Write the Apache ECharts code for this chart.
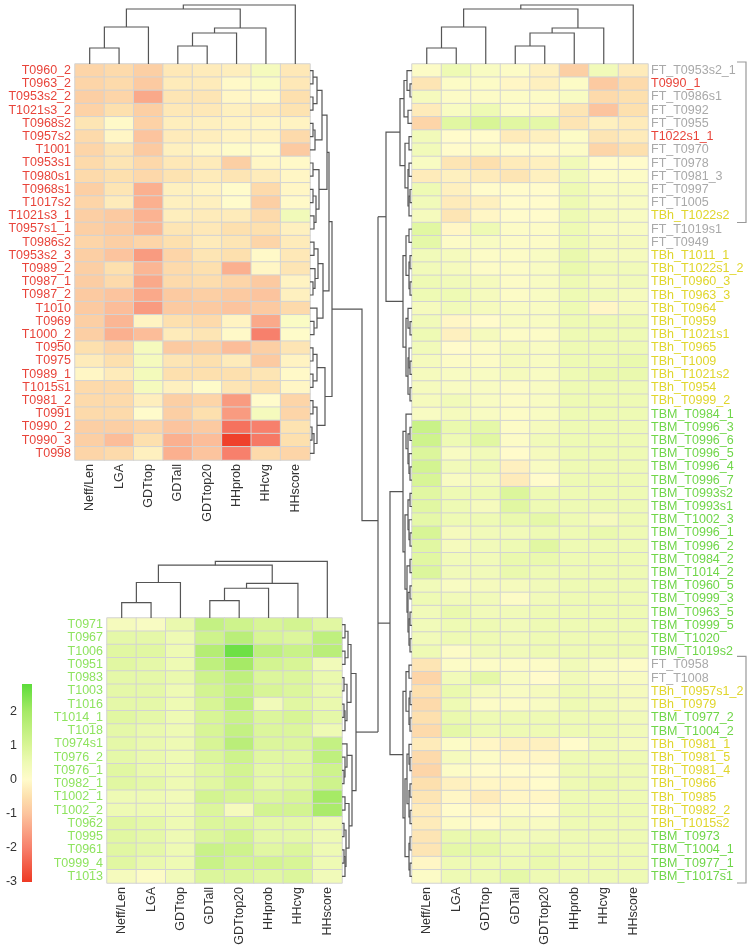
<!DOCTYPE html>
<html><head><meta charset="utf-8">
<script src="https://cdn.jsdelivr.net/npm/echarts@6/dist/echarts.min.js"></script>
<style>html,body{margin:0;padding:0;background:#fff}#c{width:750px;height:949px}</style>
</head><body><div id="c"></div>
<script>
const colNames = ['Neff/Len','LGA','GDTtop','GDTall','GDTtop20','HHprob','HHcvg','HHscore'];

const tlRows = ['T0960_2','T0963_2','T0953s2_2','T1021s3_2','T0968s2','T0957s2','T1001','T0953s1','T0980s1','T0968s1','T1017s2','T1021s3_1','T0957s1_1','T0986s2','T0953s2_3','T0989_2','T0987_1','T0987_2','T1010','T0969','T1000_2','T0950','T0975','T0989_1','T1015s1','T0981_2','T0991','T0990_2','T0990_3','T0998'];
const tlValues = [
[-0.7,-0.6,-0.8,-0.35,-0.3,-0.25,0.3,-0.35],
[-0.7,-0.6,-0.9,-0.3,-0.3,-0.05,0.15,-0.35],
[-0.8,-0.7,-1.4,-0.4,-0.4,-0.1,-0.05,-0.5],
[-0.75,-0.5,-0.8,-0.35,-0.35,-0.2,-0.3,-0.45],
[-0.4,-0.05,-0.75,-0.25,-0.2,-0.15,-0.1,-0.15],
[-0.6,-0.1,-1.0,-0.3,-0.25,-0.15,-0.15,-0.6],
[-0.7,-0.4,-0.9,-0.2,-0.1,0.05,0.0,-0.9],
[-0.6,-0.4,-0.65,-0.35,-0.3,-0.8,-0.1,-0.05],
[-0.6,-0.5,-0.65,-0.45,-0.3,-0.4,-0.3,-0.1],
[-0.8,-0.4,-1.3,-0.2,-0.15,0.0,-0.6,-0.1],
[-0.7,-0.3,-1.3,-0.2,-0.2,0.0,-0.8,-0.05],
[-0.8,-0.9,-1.25,-0.25,-0.3,-0.3,-0.6,0.4],
[-0.8,-0.9,-1.2,-0.4,-0.35,-0.5,-0.5,-0.2],
[-0.7,-0.8,-0.7,-0.5,-0.3,-0.4,-0.7,-0.3],
[-0.8,-1.0,-1.6,-0.7,-0.4,-0.5,-0.05,-0.35],
[-0.8,-0.5,-1.2,-0.6,-0.5,-1.3,-0.1,-0.4],
[-0.85,-0.6,-1.4,-0.6,-0.55,-0.7,-0.9,-0.15],
[-0.9,-1.0,-1.4,-0.9,-0.8,-0.9,-1.0,-0.2],
[-0.9,-1.1,-1.6,-0.9,-0.9,-1.0,-0.9,-0.6],
[-0.8,-1.2,-0.15,-0.5,-0.6,-0.15,-1.4,0.15],
[-0.8,-1.3,-1.1,-0.3,-0.4,-0.05,-2.0,0.05],
[-0.5,-0.7,0.3,-0.9,-0.8,-1.1,-0.8,-0.4],
[-0.3,-0.5,0.3,-0.4,-0.5,-0.3,-0.9,-0.15],
[-0.1,-0.3,0.35,-0.5,-0.5,-0.5,-0.4,-0.05],
[-0.6,-0.6,0.3,-0.2,0.05,-0.4,-0.5,-0.1],
[-0.6,-0.6,-0.25,-0.8,-0.7,-1.6,0.0,-0.7],
[-0.6,-0.6,0.0,-0.8,-0.5,-1.6,0.3,-0.7],
[-0.8,-0.8,-0.7,-1.0,-0.9,-2.2,-2.0,-0.45],
[-0.8,-1.1,-0.5,-1.3,-1.1,-2.9,-2.1,-0.5],
[-0.7,-0.6,-0.2,-1.3,-1.0,-2.0,-0.6,-0.7]
];

const blRows = ['T0971','T0967','T1006','T0951','T0983','T1003','T1016','T1014_1','T1018','T0974s1','T0976_2','T0976_1','T0982_1','T1002_1','T1002_2','T0962','T0995','T0961','T0999_4','T1013'];
const blValues = [
[0.3,0.2,0.6,1.4,1.2,1.0,1.1,0.8],
[0.7,0.7,0.5,1.2,1.6,1.0,0.9,1.5],
[0.8,0.8,0.5,1.7,2.6,1.5,1.3,1.6],
[0.8,0.7,0.5,1.5,2.0,1.1,1.0,0.4],
[0.7,0.7,0.6,1.2,1.5,0.9,0.9,0.6],
[0.7,0.7,0.5,1.1,1.4,1.0,0.9,0.6],
[0.7,0.7,0.5,1.0,1.5,0.4,0.8,0.6],
[0.8,0.7,0.5,1.0,1.3,0.9,1.0,0.7],
[0.7,0.6,0.5,1.0,1.4,0.9,0.9,0.5],
[0.7,0.6,0.5,1.0,1.6,0.9,0.9,1.4],
[0.7,0.6,0.5,0.9,1.2,0.8,0.8,1.5],
[0.8,0.6,0.5,0.8,1.1,0.7,0.8,1.2],
[0.8,0.7,0.5,0.8,1.1,0.7,0.8,1.2],
[0.5,0.5,0.4,1.1,1.0,0.9,1.0,2.0],
[0.5,0.5,0.4,0.9,0.3,1.1,1.1,1.9],
[0.8,0.7,0.5,0.9,0.9,0.7,0.7,0.5],
[0.8,0.7,0.5,0.9,1.1,0.7,0.7,0.5],
[0.8,0.7,0.5,1.3,1.2,0.8,0.9,0.5],
[0.8,0.6,0.5,1.3,1.1,1.1,1.0,0.5],
[0.3,0.1,0.4,0.9,0.9,0.8,0.9,0.4]
];

const rRows = ['FT_T0953s2_1','T0990_1','FT_T0986s1','FT_T0992','FT_T0955','T1022s1_1','FT_T0970','FT_T0978','FT_T0981_3','FT_T0997','FT_T1005','TBh_T1022s2','FT_T1019s1','FT_T0949','TBh_T1011_1','TBh_T1022s1_2','TBh_T0960_3','TBh_T0963_3','TBh_T0964','TBh_T0959','TBh_T1021s1','TBh_T0965','TBh_T1009','TBh_T1021s2','TBh_T0954','TBh_T0999_2','TBM_T0984_1','TBM_T0996_3','TBM_T0996_6','TBM_T0996_5','TBM_T0996_4','TBM_T0996_7','TBM_T0993s2','TBM_T0993s1','TBM_T1002_3','TBM_T0996_1','TBM_T0996_2','TBM_T0984_2','TBM_T1014_2','TBM_T0960_5','TBM_T0999_3','TBM_T0963_5','TBM_T0999_5','TBM_T1020','TBM_T1019s2','FT_T0958','FT_T1008','TBh_T0957s1_2','TBh_T0979','TBM_T0977_2','TBM_T1004_2','TBh_T0981_1','TBh_T0981_5','TBh_T0981_4','TBh_T0966','TBh_T0985','TBh_T0982_2','TBh_T1015s2','TBM_T0973','TBM_T1004_1','TBM_T0977_1','TBM_T1017s1'];
const rValues = [
[0.1,0.5,0.2,0.1,-0.2,-0.8,0.4,-0.3],
[-0.4,0.1,0.1,-0.1,-0.2,0.1,-0.9,-0.6],
[0.3,0.1,0.1,0.1,0.1,0.2,-0.6,-0.5],
[-0.3,0.2,0.5,0.1,-0.1,-0.4,-1.0,-0.5],
[-0.7,0.8,1.0,0.8,0.7,-0.4,-0.2,-0.3],
[0.4,0.0,0.0,-0.3,-0.2,0.1,-0.4,-0.3],
[0.4,0.0,0.1,0.0,0.0,0.1,-0.7,-0.5],
[0.2,-0.4,-0.5,-0.3,-0.2,0.4,0.0,0.0],
[-0.3,-0.2,-0.3,-0.4,-0.2,0.4,0.1,0.1],
[0.5,-0.2,0.0,0.0,0.0,0.5,0.2,0.2],
[0.4,-0.3,-0.2,0.0,0.0,0.5,0.2,0.2],
[0.3,-0.4,-0.1,0.0,0.0,0.5,0.3,0.2],
[0.8,-0.1,0.5,0.1,0.1,0.5,0.2,0.2],
[0.7,0.1,0.2,0.1,0.1,0.5,0.3,0.3],
[0.4,0.3,0.1,0.1,0.2,0.6,0.3,0.3],
[0.4,0.3,0.1,0.1,0.2,0.6,0.4,0.4],
[0.5,0.4,0.3,0.1,0.2,0.5,0.3,0.4],
[0.5,0.5,0.3,0.1,0.2,0.5,0.4,0.3],
[0.3,0.4,0.3,0.2,0.2,0.5,-0.1,0.3],
[0.4,-0.1,0.0,0.2,0.2,0.5,0.5,0.5],
[0.5,-0.2,0.3,0.1,0.1,0.5,0.5,0.5],
[0.4,0.0,0.1,0.3,0.2,0.5,0.5,0.5],
[0.3,0.1,0.1,0.3,0.2,0.5,0.5,0.6],
[0.3,0.2,0.2,0.3,0.2,0.5,0.6,0.6],
[0.3,0.2,0.2,0.1,0.2,0.5,0.5,0.5],
[0.3,0.4,0.2,0.1,0.2,0.5,0.5,0.5],
[0.2,0.3,0.2,0.1,0.2,0.5,0.5,0.5],
[1.3,0.6,0.7,0.1,0.3,0.5,0.5,0.5],
[1.2,0.5,0.8,0.1,0.4,0.5,0.5,0.5],
[0.9,0.2,0.4,0.0,0.3,0.5,0.5,0.5],
[1.1,0.4,0.5,-0.2,0.2,0.5,0.5,0.5],
[1.0,0.2,0.3,-0.3,0.0,0.5,0.5,0.5],
[0.8,0.5,0.5,0.9,0.5,0.5,0.5,0.5],
[0.8,0.5,0.3,0.8,0.5,0.5,0.5,0.5],
[0.7,0.5,0.5,0.6,0.7,0.5,0.3,0.5],
[1.0,0.3,0.4,0.4,0.5,0.5,0.6,0.5],
[0.8,0.3,0.4,0.5,0.8,0.5,0.5,0.5],
[0.8,0.4,0.4,0.6,0.6,0.5,0.5,0.5],
[0.9,0.4,0.4,0.6,0.5,0.5,0.5,0.5],
[0.4,0.2,0.3,0.3,0.4,0.5,0.5,0.5],
[0.5,0.4,0.4,0.1,0.4,0.5,0.5,0.5],
[0.4,0.6,0.4,0.4,0.5,0.5,0.5,0.5],
[0.4,0.5,0.5,0.4,0.5,0.5,0.5,0.5],
[0.4,0.5,0.5,0.4,0.5,0.5,0.5,0.5],
[0.5,0.1,0.4,0.4,0.5,0.5,0.5,0.5],
[-0.4,0.1,0.1,0.1,0.1,0.4,0.2,0.1],
[-0.7,0.4,0.7,0.2,0.0,0.4,0.2,0.2],
[-0.5,0.6,0.3,0.2,0.3,0.5,0.4,0.3],
[-0.6,0.5,0.1,0.1,0.2,0.5,0.4,0.3],
[-0.5,0.6,0.5,0.5,0.5,0.5,0.5,0.4],
[-0.6,0.7,0.5,0.5,0.5,0.5,0.5,0.4],
[-0.3,0.1,-0.1,-0.2,-0.2,0.0,0.4,0.3],
[-0.6,0.3,0.1,-0.1,-0.1,0.5,0.5,0.5],
[-0.7,0.1,0.0,0.0,0.0,0.5,0.5,0.5],
[-0.5,-0.2,-0.1,-0.1,0.0,0.5,0.6,0.5],
[-0.4,-0.1,-0.3,-0.1,-0.1,0.5,0.5,0.5],
[-0.3,0.0,-0.1,0.1,0.0,0.5,0.5,0.5],
[-0.3,0.1,0.0,0.3,0.2,0.5,0.5,0.5],
[-0.4,0.6,0.6,0.4,0.4,0.5,0.5,0.5],
[-0.4,0.7,0.7,0.5,0.6,0.5,0.5,0.5],
[-0.1,0.5,0.5,0.5,0.6,0.5,0.5,0.5],
[0.1,0.5,0.5,0.7,0.5,0.5,0.5,0.5]
];

// colour scale (value, colour) and colour-bar ticks
const cbMin = -3, cbMax = 2.8;
const colorStops = [[-3,'#ee3a24'],[-2,'#f7806c'],[-1,'#fcc49e'],[-0.5,'#fde0ae'],[0,'#fffbcb'],[0.5,'#eefab4'],[1,'#d8f596'],[2,'#a6ea66'],[2.8,'#5cdc3a']];
const cbTicks = [-3,-2,-1,0,1,2];

// dendrograms: [left, right, height]; leaves are indices
const colTree = [[[[0,1,16],2,37],[[[3,4,18],5,31],6,36],55],7,59];
const tlTree = [
  [[[[[0,1,3],[2,3,3],7],[[4,5,3],6,5],12],[[7,8,3],[[9,10,3],[11,12,4],6],9],17],
   [[[13,14,4],[15,[16,17,3],5],8],[18,[19,20,4],7],13],19],
  [[[21,22,3],[23,24,3],7],[[25,26,3],[[27,28,2],29,4],7],15],22];
const blTree = [
  [[[0,1,3],[2,3,3],6],[[4,5,2],[[6,7,2],8,3],5],9],
  [[9,[10,[11,12,2],3],5],[[13,14,3],[[15,16,2],[[17,18,2],19,3],4],7],10],14];
const rTreeTop = [
  [[[0,[1,2,2],5],[3,4,4],8],[[5,6,3],[[7,8,3],[[9,10,2],11,3],4],7],12],
  [[[12,13,3],[[14,15,2],[16,17,2],3],6],[[18,[19,20,2],4],[[21,[22,23,2],3],[24,25,2],4],6],9],26];
const rTreeBottom = [
  [[26,[[27,28,2],[29,[30,31,2],3],4],6],[[[32,33,2],[34,[35,36,2],3],4],[[37,38,2],[[39,40,2],[[41,42,2],[43,44,2],3],4],5],7],9],
  [[[45,46,3],[[47,48,2],[49,50,2],3],6],[[[51,[52,53,2],3],[[54,55,2],[56,57,2],3],5],[[58,59,2],[60,61,2],3],7],9],22];
const rRootH = 34, tlElbowH = 52;
const bracketGroups = [[0,11],[45,61]];

// ---------- helpers ----------
function hexToRgb(h){return [parseInt(h.slice(1,3),16),parseInt(h.slice(3,5),16),parseInt(h.slice(5,7),16)];}
function colorAt(v){
  for(let i=1;i<colorStops.length;i++){
    const [v0,c0]=colorStops[i-1],[v1,c1]=colorStops[i];
    if(v<=v1+1e-9){const t=(v-v0)/(v1-v0);const a=hexToRgb(c0),b=hexToRgb(c1);
      return 'rgb('+a.map((x,k)=>Math.round(x+(b[k]-x)*t)).join(',')+')';}
  }
  return colorStops[colorStops.length-1][1];
}
const ramp=[];for(let i=0;i<=58;i++)ramp.push(colorAt(cbMin+i*(cbMax-cbMin)/58));
function toData(vals){const d=[];vals.forEach((row,r)=>row.forEach((v,c)=>d.push([c,r,v])));return d;}
const FONT='"Liberation Sans", Arial, Helvetica, sans-serif';
const redC='#e8443a', blC='#8ee35e';
function rColor(n){return n.startsWith('FT_')?'#a9a9a9':n.startsWith('TBh_')?'#e0d62c':n.startsWith('TBM_')?'#6fd648':redC;}

function xAx(g){return {type:'category',gridIndex:g,data:colNames,position:'bottom',axisLine:{show:false},axisTick:{show:false},splitLine:{show:false},
  axisLabel:{interval:0,rotate:90,fontSize:12.5,color:'#333',margin:4,fontFamily:FONT}};}
function yAx(g,rows,pos,col){return {type:'category',gridIndex:g,data:rows,inverse:true,position:pos,axisLine:{show:false},axisTick:{show:false},splitLine:{show:false},
  axisLabel:{interval:0,fontSize:12.5,color:col,margin:pos==='left'?4:3,fontFamily:FONT}};}
const hmStyle={borderColor:'#d3d3d3',borderWidth:1};

const chart=echarts.init(document.getElementById('c'),null,{renderer:'canvas'});
chart.setOption({
  backgroundColor:'#fff',animation:false,
  grid:[
    {left:75,top:64,width:235,height:396,outerBoundsMode:'none'},
    {left:107,top:618,width:235,height:265,outerBoundsMode:'none'},
    {left:412,top:64,width:236,height:819,outerBoundsMode:'none'},
    {left:22,top:684,width:10,height:198,outerBoundsMode:'none'}
  ],
  xAxis:[xAx(0),xAx(1),xAx(2),{type:'value',gridIndex:3,min:0,max:1,show:false}],
  yAxis:[yAx(0,tlRows,'left',()=>redC),yAx(1,blRows,'left',()=>blC),yAx(2,rRows,'right',v=>rColor(v)),
    {type:'value',gridIndex:3,min:cbMin,max:cbMax,interval:1,axisLine:{show:false},axisTick:{show:false},splitLine:{show:false},
     axisLabel:{fontSize:12.5,color:'#333',margin:5,fontFamily:FONT,showMaxLabel:false,formatter:v=>cbTicks.includes(v)?String(v):''}}],
  visualMap:{show:false,type:'continuous',min:cbMin,max:cbMax,seriesIndex:[0,1,2],inRange:{color:ramp}},
  series:[
    {type:'heatmap',xAxisIndex:0,yAxisIndex:0,data:toData(tlValues),itemStyle:hmStyle},
    {type:'heatmap',xAxisIndex:1,yAxisIndex:1,data:toData(blValues),itemStyle:hmStyle},
    {type:'heatmap',xAxisIndex:2,yAxisIndex:2,data:toData(rValues),itemStyle:hmStyle},
    {type:'custom',xAxisIndex:3,yAxisIndex:3,data:[[0,cbMin]],silent:true,
     renderItem:(p,api)=>{const a=api.coord([0,cbMax]),b=api.coord([1,cbMin]);
       return {type:'rect',shape:{x:a[0],y:a[1],width:b[0]-a[0],height:b[1]-a[1]},
         style:{fill:new echarts.graphic.LinearGradient(0,0,0,1,colorStops.slice().reverse().map(([v,c])=>({offset:(cbMax-v)/(cbMax-cbMin),color:c})))}};}}
  ]
});

// ---------- dendrograms from axis positions ----------
function panel(i,nRows){
  const yc=k=>chart.convertToPixel({yAxisIndex:i},k), xc=k=>chart.convertToPixel({xAxisIndex:i},k);
  const ys=yc(1)-yc(0), xs=xc(1)-xc(0);
  return {yc,xc,top:yc(0)-ys/2,bottom:yc(nRows-1)+ys/2,left:xc(0)-xs/2,right:xc(7)+xs/2};
}
const P=[panel(0,tlRows.length),panel(1,blRows.length),panel(2,rRows.length)];
const els=[];
const LINE={stroke:'#555',lineWidth:1.2,fill:null};
function poly(pts,style){els.push({type:'polyline',silent:true,z:10,shape:{points:pts},style:style||LINE});}
function tree(node,leafPos,xy){
  if(typeof node==='number')return {p:leafPos(node),h:0};
  const a=tree(node[0],leafPos,xy),b=tree(node[1],leafPos,xy),h=node[2];
  poly([xy(a.p,a.h),xy(a.p,h),xy(b.p,h),xy(b.p,b.h)]);
  return {p:(a.p+b.p)/2,h};
}
const colScale=[1,0.96,1];
P.forEach((pp,i)=>tree(colTree,pp.xc,(p,h)=>[p,pp.top-h*colScale[i]]));
const A=tree(tlTree,P[0].yc,(p,h)=>[P[0].right+h,p]);
const B=tree(blTree,P[1].yc,(p,h)=>[P[1].right+h,p]);
const rxy=(p,h)=>[P[2].left-h,p];
const Ct=tree(rTreeTop,P[2].yc,rxy), Cb=tree(rTreeBottom,P[2].yc,rxy);
const rootX=P[2].left-rRootH, elbowX=P[0].right+tlElbowH, mid=(A.p+B.p)/2;
poly([[P[0].right+A.h,A.p],[elbowX,A.p],[elbowX,mid],[rootX,mid]]);
poly([[P[1].right+B.h,B.p],[rootX,B.p]]);
poly([rxy(Ct.p,Ct.h),[rootX,Ct.p]]);
poly([rxy(Cb.p,Cb.h),[rootX,Cb.p]]);
const ys=[Ct.p,Cb.p,mid,B.p];
poly([[rootX,Math.min(...ys)],[rootX,Math.max(...ys)]]);
// brackets on the right
bracketGroups.forEach(([s,e])=>{
  const yh=(P[2].yc(1)-P[2].yc(0))/2, t=P[2].yc(s)-yh-2, b=P[2].yc(e)+yh;
  const x0=P[2].right+89,x1=P[2].right+98;
  poly([[x0,t],[x1,t],[x1,b],[x0,b]],{stroke:'#999',lineWidth:1.2,fill:null});
});
chart.setOption({graphic:{elements:els}});
</script></body></html>
